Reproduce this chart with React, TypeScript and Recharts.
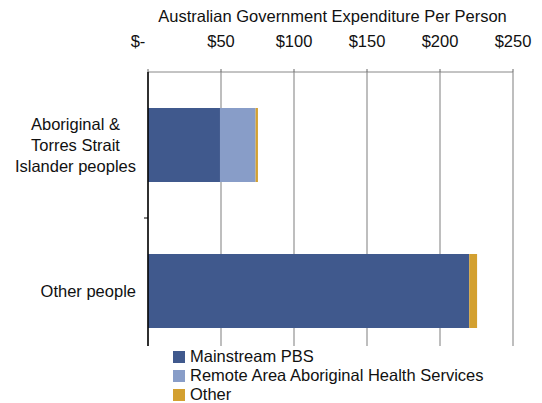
import { Bar, BarChart, CartesianGrid, XAxis, YAxis } from "recharts"

const categories = ["Aboriginal &\nTorres Strait\nIslander peoples", "Other people"]
const mainstreamPbs = [49.3, 220]
const remoteAreaHealth = [24.4, 0]
const other = [1.6, 5.4]
const xTicks = [0, 50, 100, 150, 200, 250]

const series = [
  { key: "mainstream", name: "Mainstream PBS", color: "#40598d" },
  { key: "remote", name: "Remote Area Aboriginal Health Services", color: "#889dc8" },
  { key: "other", name: "Other", color: "#d3a030" },
]

const data = categories.map((name, i) => ({
  name,
  mainstream: mainstreamPbs[i],
  remote: remoteAreaHealth[i],
  other: other[i],
}))

const FONT = "'Liberation Sans', Arial, sans-serif"
const FS = 16.5

let ctx: CanvasRenderingContext2D | null = null
function measure(text: string) {
  if (!ctx) ctx = document.createElement("canvas").getContext("2d")
  if (!ctx) return text.length * 8
  ctx.font = `${FS}px ${FONT}`
  return ctx.measureText(text).width
}

function CategoryTick(props: any) {
  const { x, y, payload, index } = props
  const lines = String(payload.value).split("\n")
  const maxW = Math.max(...lines.map(measure))
  const cx = x - 12 - maxW / 2
  const half = payload.offset || 73
  const lineH = 21
  const startY = y - ((lines.length - 1) * lineH) / 2
  return (
    <g>
      {index > 0 && <line x1={x - 4} x2={x} y1={y - half} y2={y - half} stroke="#000" />}
      <text x={cx} y={startY} textAnchor="middle" fontSize={FS} fontFamily={FONT} fill="#111">
        {lines.map((l, i) => (
          <tspan key={i} x={cx} dy={i === 0 ? "0.36em" : lineH}>
            {l}
          </tspan>
        ))}
      </text>
    </g>
  )
}

function ValueTick(props: any) {
  const { x, y, payload } = props
  const v = payload.value
  return (
    <text x={v === 0 ? x - 10 : x} y={y} textAnchor="middle" fontSize={FS} fontFamily={FONT} fill="#111">
      {v === 0 ? "$-" : `$${v}`}
    </text>
  )
}

export default function App() {
  return (
    <div style={{ position: "absolute", left: 0, top: 0, width: 542, height: 403, background: "#fff" }}>
      <div
        style={{
          position: "absolute",
          top: 7,
          left: 150,
          width: 365,
          textAlign: "center",
          fontFamily: FONT,
          fontSize: FS,
          color: "#111",
        }}
      >
        Australian Government Expenditure Per Person
      </div>
      <BarChart
        width={542}
        height={403}
        data={data}
        layout="vertical"
        margin={{ top: 42, right: 29, bottom: 39, left: 0 }}
      >
        <CartesianGrid horizontal={false} stroke="#a8a8a8" strokeWidth={1.5} />
        <XAxis
          type="number"
          orientation="top"
          domain={[0, 250]}
          ticks={xTicks}
          interval={0}
          height={30}
          tick={<ValueTick />}
          tickSize={3}
          tickMargin={22}
          axisLine={{ stroke: "#888" }}
          tickLine={{ stroke: "#666" }}
        />
        <YAxis
          type="category"
          dataKey="name"
          width={148}
          tick={<CategoryTick />}
          tickSize={0}
          tickMargin={0}
          tickLine={false}
          axisLine={{ stroke: "#000", strokeWidth: 1.5 }}
        />
        {series.map((s) => (
          <Bar key={s.key} dataKey={s.key} name={s.name} stackId="a" fill={s.color} barSize={74} isAnimationActive={false} />
        ))}
      </BarChart>
      <div
        style={{
          position: "absolute",
          top: 346,
          left: 140,
          width: 380,
          height: 57,
          background: "#fff",
          paddingTop: 1,
          paddingLeft: 33,
          boxSizing: "border-box",
          fontFamily: FONT,
          fontSize: FS,
          color: "#111",
        }}
      >
        {series.map((s) => (
          <div key={s.key} style={{ display: "flex", alignItems: "center", height: 19 }}>
            <span style={{ width: 12, height: 12, background: s.color, display: "inline-block", marginRight: 5 }} />
            <span>{s.name}</span>
          </div>
        ))}
      </div>
    </div>
  )
}
